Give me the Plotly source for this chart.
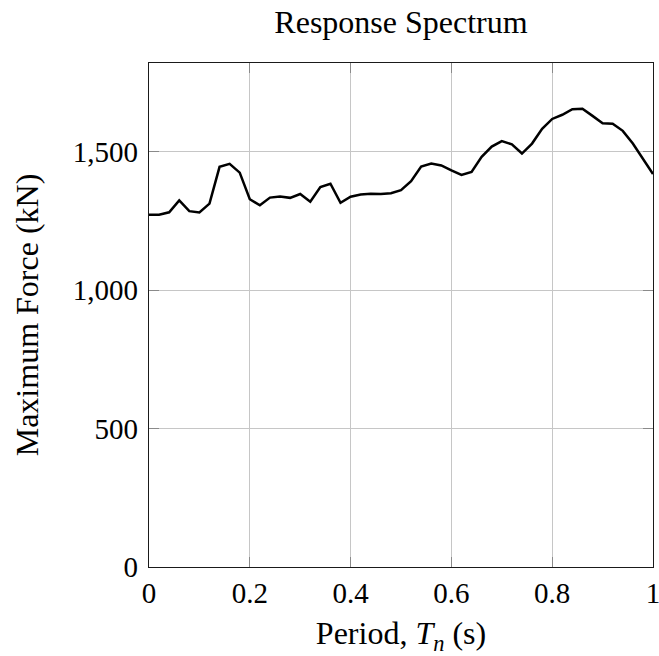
import plotly.graph_objects as go

period = [round(0.02 * i, 2) for i in range(51)]
force = [1272, 1272, 1281, 1324, 1285, 1280, 1312, 1445, 1456, 1424,
         1328, 1306, 1334, 1338, 1333, 1347, 1319, 1372, 1384, 1315,
         1337, 1345, 1348, 1347, 1350, 1361, 1393, 1446, 1457, 1450,
         1432, 1416, 1427, 1481, 1518, 1538, 1526, 1493, 1529, 1582,
         1618, 1633, 1653, 1655, 1629, 1602, 1601, 1575, 1529, 1473,
         1419]

x_ticks = [0, 0.2, 0.4, 0.6, 0.8, 1]
x_ticktext = ["0", "0.2", "0.4", "0.6", "0.8", "1"]
y_ticks = [0, 500, 1000, 1500]
y_ticktext = ["0", "500", "1,000", "1,500"]

FONT = "Liberation Serif, Times New Roman, serif"

fig = go.Figure()
fig.add_trace(go.Scatter(x=period, y=force, mode="lines",
                         line=dict(color="black", width=2.5),
                         showlegend=False, hoverinfo="skip"))

axis_common = dict(
    showline=True, linecolor="#1a1a1a", linewidth=1.2, mirror="ticks",
    showgrid=True, gridcolor="#c6c6c6", gridwidth=1,
    ticks="inside", ticklen=10, tickcolor="#8a8a8a", tickwidth=1,
    zeroline=False, automargin=False, ticklabeloverflow="allow",
    tickfont=dict(family=FONT, size=29, color="black"),
)

fig.update_layout(
    width=659, height=656,
    margin=dict(l=148.5, r=5.7, t=63.3, b=88.7),
    paper_bgcolor="white", plot_bgcolor="white",
    title=dict(text="Response Spectrum", x=0.5,
               xanchor="center", xref="paper", y=1 - 22 / 656,
               yanchor="middle", automargin=False,
               font=dict(family=FONT, size=32, color="black")),
    xaxis=dict(range=[0, 1], tickvals=x_ticks, ticktext=x_ticktext,
               title=dict(text="Period, <i>T</i><sub><i>n</i></sub> (s)",
                          font=dict(family=FONT, size=32, color="black"),
                          standoff=14),
               ticklabelstandoff=0,
               **axis_common),
    yaxis=dict(range=[0, 1820], tickvals=y_ticks, ticktext=y_ticktext,
               title=dict(text="Maximum Force (kN)",
                          font=dict(family=FONT, size=32, color="black"),
                          standoff=24),
               ticklabelstandoff=4,
               **axis_common),
)

fig.write_html("out.html",
               config={"displayModeBar": False, "staticPlot": True},
               post_script="document.body.style.margin='0';"
                           "document.body.style.overflow='hidden';")
